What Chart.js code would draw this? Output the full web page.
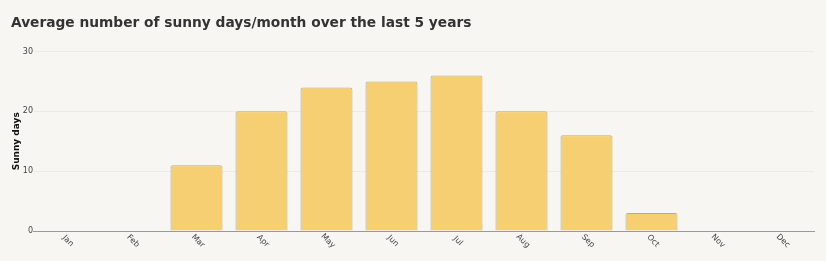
<!DOCTYPE html>
<html>
<head>
<meta charset="utf-8">
<script src="https://cdn.jsdelivr.net/npm/chart.js@4"></script>
<style>
  html, body { margin: 0; padding: 0; background: #f7f6f3; }
  #wrap { width: 826px; height: 261px; position: relative; }
</style>
</head>
<body>
<div id="wrap"><canvas id="sunChart"></canvas></div>
<script>
var months = ['Jan', 'Feb', 'Mar', 'Apr', 'May', 'Jun', 'Jul', 'Aug', 'Sep', 'Oct', 'Nov', 'Dec'];
var sunnyDays = [0, 0, 11, 20, 24, 25, 26, 20, 16, 3, 0, 0];
var yTicks = [0, 10, 20, 30];

// month labels slanted downwards to the right, as in the original
var slantedLabels = {
  id: 'slantedLabels',
  afterDraw: function(chart) {
    var xs = chart.scales.x;
    var c = chart.ctx;
    c.save();
    c.fillStyle = '#444444';
    c.font = '8px "DejaVu Sans"';
    c.textAlign = 'center';
    c.textBaseline = 'middle';
    months.forEach(function(m, i) {
      c.save();
      c.translate(xs.getPixelForTick(i) + 1.5, chart.chartArea.bottom + 10);
      c.rotate(Math.PI / 4);
      c.fillText(m, 0, 0);
      c.restore();
    });
    c.restore();
  }
};

var ctx = document.getElementById('sunChart').getContext('2d');
new Chart(ctx, {
  type: 'bar',
  data: {
    labels: months,
    datasets: [{
      label: 'Sunny days',
      data: sunnyDays,
      backgroundColor: '#f6cf72',
      borderColor: '#b5ab94',
      borderWidth: 1,
      borderRadius: 2,
      borderSkipped: 'bottom',
      categoryPercentage: 0.8,
      barPercentage: 1
    }]
  },
  plugins: [slantedLabels],
  options: {
    responsive: true,
    maintainAspectRatio: false,
    animation: false,
    layout: { padding: { left: 11, right: 12, top: 15, bottom: 22 } },
    plugins: {
      legend: { display: false },
      tooltip: { enabled: false },
      title: {
        display: true,
        text: 'Average number of sunny days/month over the last 5 years',
        align: 'start',
        color: '#333333',
        font: { family: 'DejaVu Sans', size: 13.75, weight: 'bold' },
        padding: { top: 0, bottom: 20 }
      }
    },
    scales: {
      x: {
        grid: { display: false },
        border: { display: true, color: '#999999' },
        ticks: { display: false }
      },
      y: {
        min: 0,
        max: 30,
        afterBuildTicks: function(axis) {
          axis.ticks = yTicks.map(function(v) { return { value: v }; });
        },
        grid: { color: '#ebeae6', drawTicks: false },
        border: { display: false },
        ticks: {
          color: '#444444',
          font: { family: 'DejaVu Sans', size: 8 },
          padding: 1
        },
        title: {
          display: true,
          text: 'Sunny days',
          color: '#111111',
          font: { family: 'DejaVu Sans', size: 9, weight: 'bold' },
          padding: 0
        }
      }
    }
  }
});
</script>
</body>
</html>
